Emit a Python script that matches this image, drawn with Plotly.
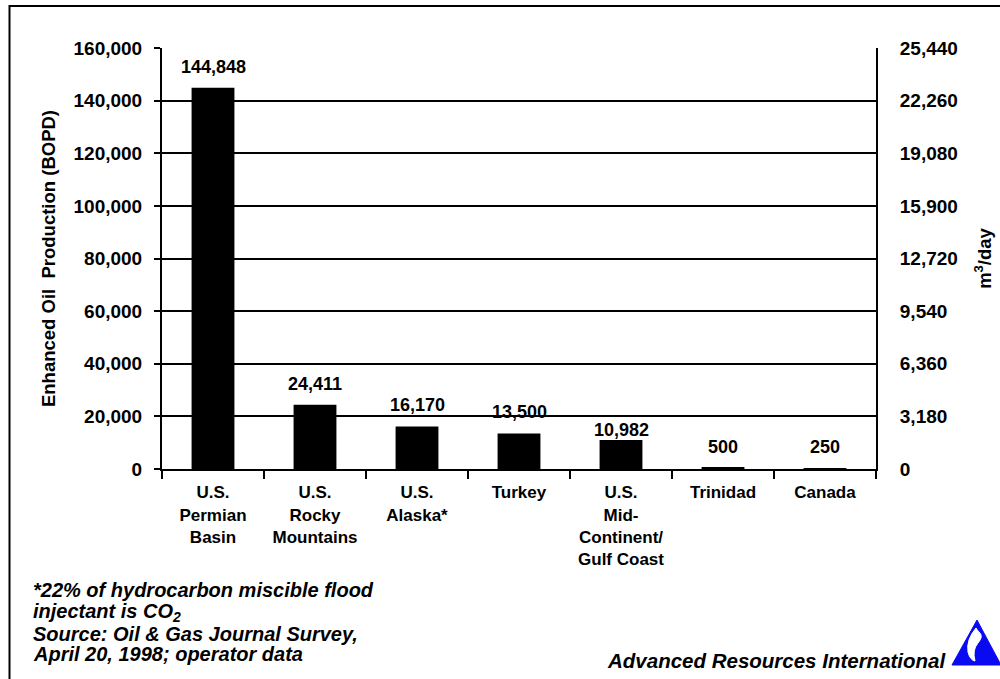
import plotly.graph_objects as go

# Enhanced oil production by region (barrels of oil per day)
regions = [
    "U.S.<br>Permian<br>Basin",
    "U.S.<br>Rocky<br>Mountains",
    "U.S.<br>Alaska*",
    "Turkey",
    "U.S.<br>Mid-<br>Continent/<br>Gulf Coast",
    "Trinidad",
    "Canada",
]
bopd = [144848, 24411, 16170, 13500, 10982, 500, 250]
value_labels = ["144,848", "24,411", "16,170", "13,500", "10,982", "500", "250"]

# barrels -> cubic metres
M3_PER_BBL = 0.159

# Left axis (BOPD) and right axis (m3/day) ticks
left_ticks = [0, 20000, 40000, 60000, 80000, 100000, 120000, 140000, 160000]
right_ticks = [0, 3180, 6360, 9540, 12720, 15900, 19080, 22260, 25440]
right_tick_text = ["0", "3,180", "6,360", "9,540", "12,720", "15,900", "19,080", "22,260", "25,440"]

footnote_lines = [
    "*22% of hydrocarbon miscible flood",
    "injectant is CO<sub>2</sub>",
    "Source: Oil &amp; Gas Journal Survey,",
    "April 20, 1998; operator data",
]

W, H = 1000, 679
L, R, T, B = 162, 876, 48, 469
FONT = "Arial, Liberation Sans, sans-serif"


def fx(px):
    return (px - L) / (R - L)


def fy(py):
    return (B - py) / (B - T)


fig = go.Figure()
fig.add_trace(go.Bar(
    x=regions, y=bopd, width=0.42,
    marker=dict(color="black", line=dict(width=0)),
    hoverinfo="skip",
))
# same production in m3/day on the secondary axis (invisible, keeps the axis live)
fig.add_trace(go.Scatter(
    x=regions, y=[v * M3_PER_BBL for v in bopd], yaxis="y2",
    mode="markers", marker=dict(opacity=0), hoverinfo="skip",
))

# value labels above each bar
label_nudge = [0, 0, 0, 0, -11, 0, 0]
for reg, val, txt, nudge in zip(regions, bopd, value_labels, label_nudge):
    fig.add_annotation(
        x=reg, y=val, text=txt, showarrow=False,
        xref="x", yref="y", yanchor="bottom", yshift=9 + nudge,
        font=dict(family=FONT, size=18, color="black", weight="bold"),
    )

fig.update_layout(
    width=W, height=H,
    margin=dict(l=L, r=W - R, t=T, b=H - B, pad=0),
    paper_bgcolor="white", plot_bgcolor="white",
    showlegend=False,
    font=dict(family=FONT, size=17, color="black", weight="bold"),
    xaxis=dict(
        type="category", automargin=False,
        tickson="boundaries", ticks="outside", ticklen=8, tickwidth=2, tickcolor="black",
        showline=True, linecolor="black", linewidth=2,
        showgrid=False, zeroline=False,
        tickangle=0,
        ticklabelstandoff=7,
        tickfont=dict(family=FONT, size=17, color="black", weight="bold"),
        range=[-0.5, 6.5],
    ),
    yaxis=dict(
        range=[0, 160000], tickvals=left_ticks, tickformat=",d", automargin=False,
        ticks="outside", ticklen=6, tickwidth=2, tickcolor="black",
        showline=True, linecolor="black", linewidth=2,
        showgrid=True, gridcolor="black", gridwidth=2,
        zeroline=False,
        ticklabelstandoff=8,
        tickfont=dict(family=FONT, size=19, color="black", weight="bold"),
        title=dict(text="Enhanced Oil\u00a0 Production (BOPD)", standoff=13,
                   font=dict(family=FONT, size=18.5, color="black", weight="bold")),
    ),
    yaxis2=dict(
        overlaying="y", side="right", anchor="x", automargin=False,
        range=[0, 25440], tickvals=right_ticks, ticktext=right_tick_text,
        ticks="", showline=True, linecolor="black", linewidth=2,
        showgrid=False, zeroline=False,
        ticklabelstandoff=18,
        tickfont=dict(family=FONT, size=19, color="black", weight="bold"),
        title=dict(text="m<sup>3</sup>/day", standoff=21,
                   font=dict(family=FONT, size=18.5, color="black", weight="bold")),
    ),
)

# outer frame (top and left edges visible)
fig.add_shape(type="rect", xref="paper", yref="paper",
              x0=fx(9.5), x1=fx(1012), y0=fy(6), y1=fy(700),
              line=dict(color="black", width=2), fillcolor="rgba(0,0,0,0)", layer="below")

# footnote, one line at a time
for line, yc in zip(footnote_lines, [590, 612, 634, 654]):
    fig.add_annotation(
        xref="paper", yref="paper", x=fx(31), y=fy(yc), xanchor="left", yanchor="middle",
        align="left", showarrow=False, text=line,
        font=dict(family=FONT, size=20, color="black", weight="bold", style="italic"),
    )

# company credit
fig.add_annotation(
    xref="paper", yref="paper", x=fx(949), y=fy(660), xanchor="right", yanchor="middle",
    showarrow=False, text="Advanced Resources International",
    font=dict(family=FONT, size=20.5, color="black", weight="bold", style="italic"),
)

# logo: blue triangle with a white flame
def pt(px, py):
    return f"{fx(px):.5f},{fy(py):.5f}"


fig.add_shape(type="path", xref="paper", yref="paper",
              path=f"M {pt(977, 620)} L {pt(952, 665)} L {pt(1001, 665)} Z",
              fillcolor="#0A0AF2", line=dict(color="#0A0AF2", width=1))
fig.add_shape(type="path", xref="paper", yref="paper",
              path=(f"M {pt(976, 628)} Q {pt(966, 640)} {pt(968, 652)} "
                    f"Q {pt(970, 660)} {pt(975, 661)} "
                    f"Q {pt(972, 650)} {pt(978, 643)} "
                    f"Q {pt(984, 636)} {pt(979, 632)} "
                    f"Q {pt(977, 630)} {pt(976, 628)} Z"),
              fillcolor="white", line=dict(color="white", width=1))
fig.add_shape(type="path", xref="paper", yref="paper",
              path=(f"M {pt(982, 641)} Q {pt(975, 648)} {pt(977, 657)}"),
              line=dict(color="#0A0AF2", width=2))

fig.write_html("out.html")
